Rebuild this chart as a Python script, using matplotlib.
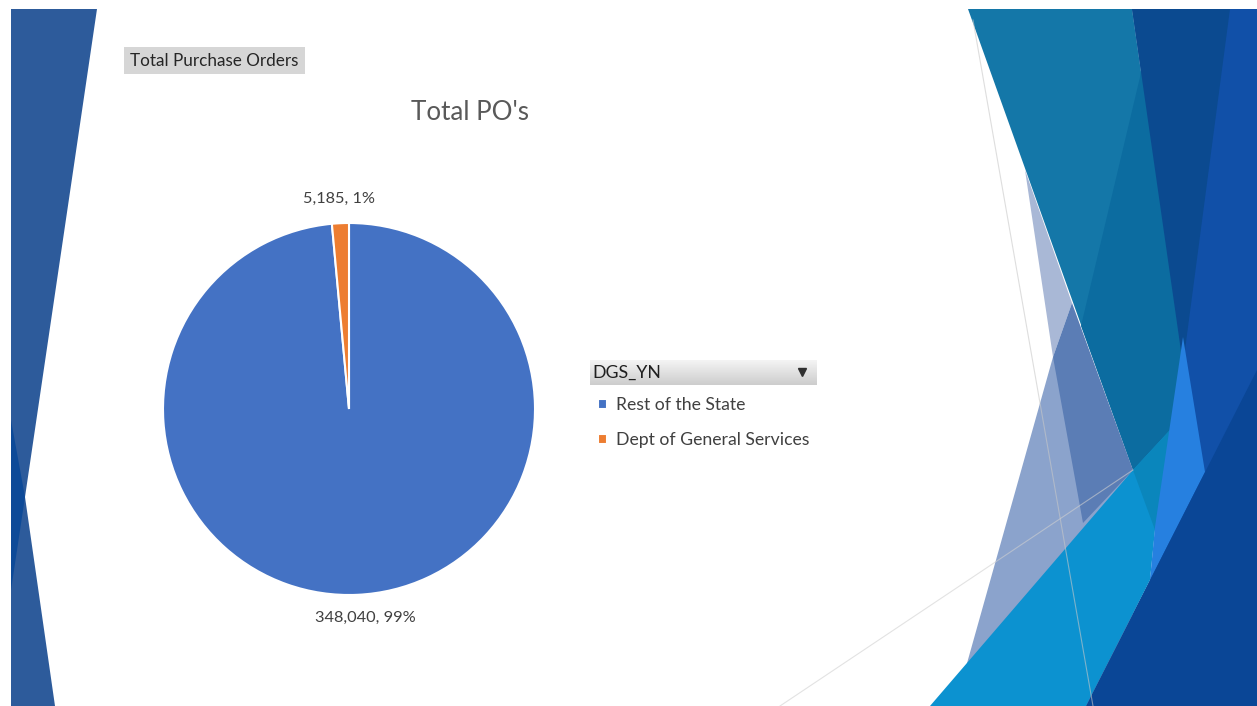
import numpy as np
import matplotlib.pyplot as plt
from matplotlib.patches import Polygon, Rectangle
from matplotlib.colors import LinearSegmentedColormap

plt.rcParams['font.family'] = ['Lato', 'DejaVu Sans']

# datos del grafico
categorias = ['Rest of the State', 'Dept of General Services']
valores = [348040, 5185]
porcentajes = ['99%', '1%']
colores = ['#4472C4', '#ED7D31']
titulo = "Total PO's"
boton = 'Total Purchase Orders'
campo = 'DGS_YN'

W, H = 1257, 706
fig = plt.figure(figsize=(W / 100, H / 100), dpi=100)

# fondo de la diapositiva en coordenadas de pixel
bg = fig.add_axes([0, 0, 1, 1])
bg.set_xlim(0, W)
bg.set_ylim(H, 0)
bg.axis('off')

def poli(puntos, color, **kw):
    bg.add_patch(Polygon(puntos, closed=True, facecolor=color, edgecolor='none', **kw))

# decoracion izquierda
poli([(11, 9), (97, 9), (25, 497), (55, 706), (11, 706)], '#2D5B9B')
poli([(11, 420), (25, 497), (11, 590)], '#0D4A98')

# decoracion derecha
poli([(1132, 9), (1257, 9), (1257, 706), (1086, 706), (1150, 580), (1183, 365)], '#1150A8')
poli([(968, 9), (1132, 9), (1183, 365), (1155, 530), (1133, 470)], '#1477A8')
poli([(1150, 9), (1140, 77), (1081, 326), (1133, 470), (1155, 530), (1183, 365)], '#0C6CA0')
poli([(1132, 9), (1230, 9), (1183, 365)], '#0B4A90')
poli([(1025, 170), (1072, 303), (1053, 357)], '#A9B8D6')
poli([(1053, 357), (1133, 470), (1133, 706), (955, 706)], '#8BA3CC')
poli([(1072, 303), (1053, 357), (1083, 523), (1133, 470)], '#5B7DB5')
poli([(930, 706), (1133, 470), (1170, 430), (1155, 530), (1150, 580), (1086, 706)], '#0C92D0')
poli([(1133, 470), (1170, 430), (1155, 530)], '#0A86BC')
poli([(1183, 337), (1205, 472), (1150, 580), (1155, 527)], '#2680E0')
poli([(1086, 706), (1257, 370), (1257, 706)], '#0A4696')
bg.plot([973, 1093], [20, 706], color='#C8C8C8', lw=0.8, alpha=0.6)
bg.plot([780, 1133], [706, 470], color='#D0D0D0', lw=0.8, alpha=0.6)

# boton "Total Purchase Orders"
bg.add_patch(Rectangle((124, 47), 181, 27, facecolor='#D6D6D6', edgecolor='none'))
bg.text(130, 61, boton, fontsize=12.3, color='#262626', va='center', ha='left')

# titulo
bg.text(470, 112, titulo, fontsize=18.7, color='#595959', ha='center', va='center')

# cabecera de la leyenda con degradado
grad = LinearSegmentedColormap.from_list('g', ['#F4F4F4', '#CDCDCD'])
bg.imshow(np.linspace(0, 1, 30).reshape(-1, 1), cmap=grad, extent=(590, 817, 385, 360),
          aspect='auto', zorder=1)
bg.text(592, 373, campo, fontsize=12.8, color='#1F1F1F', va='center', ha='left', zorder=2)
bg.plot([802], [372], marker='v', markersize=5.5, color='#303030', zorder=2)
bg.set_xlim(0, W)
bg.set_ylim(H, 0)

# pastel
cx, cy, r = 349, 409, 186
lim = 1.3
lado = 2 * lim * r
ax = fig.add_axes([(cx - lado / 2) / W, (H - cy - lado / 2) / H, lado / W, lado / H])
etiquetas = [f'{v:,}, {p}' for v, p in zip(valores, porcentajes)]
cunas, textos = ax.pie(valores, colors=colores, startangle=90, counterclock=False,
                       labels=etiquetas, labeldistance=1.12,
                       wedgeprops=dict(edgecolor='white', linewidth=1.5),
                       textprops=dict(fontsize=11.8, color='#404040'))
# posicion de las etiquetas como en Excel (mejor ajuste)
pos_etiquetas = [(0.086, -1.124), (-0.056, 1.129)]
for t, p in zip(textos, pos_etiquetas):
    t.set_position(p)
    t.set_ha('center')
    t.set_va('center')
ax.set_xlim(-lim, lim)
ax.set_ylim(-lim, lim)
ax.set_aspect('equal')

# leyenda
ax.legend(cunas, categorias, loc='upper left', bbox_to_anchor=(598 / W, 1 - 397 / H),
          bbox_transform=fig.transFigure, frameon=False, fontsize=12.7,
          labelcolor='#404040', handlelength=0.5, handleheight=0.5,
          handletextpad=0.5, labelspacing=1.1, borderpad=0, borderaxespad=0)

fig.savefig('out.png', dpi=100, facecolor='white')
